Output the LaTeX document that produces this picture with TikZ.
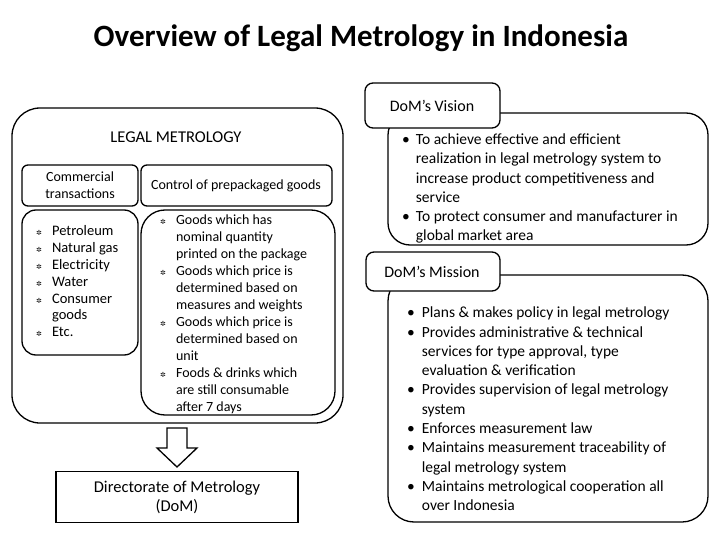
\documentclass[tikz,border=0pt]{standalone}
\usepackage{fontspec}
\setmainfont{Carlito}
\newfontfamily\dejavu{DejaVu Sans}
\newcommand{\sym}{{\dejavu\scriptsize ✲}}
\tikzset{
 box/.style={draw,line width=1.3pt,rounded corners=#1},
 box/.default=8pt,
 txt/.style={font=\fontsize{14}{17}\selectfont,align=left,inner sep=0pt},
}
\begin{document}
\begin{tikzpicture}[x=1pt,y=-1pt]
\useasboundingbox (0,0) rectangle (720,540);
\node[font=\fontsize{31}{34}\bfseries] (title) at (361,38) {Overview of Legal Metrology in Indonesia};
% legal metrology
\draw[box=28pt] (12,108) rectangle (343,423);
\node[font=\fontsize{16.5}{19}\selectfont] (lm) at (176,137) {LEGAL METROLOGY};
\draw[box=6pt] (22,165) rectangle (138,206);
\node[txt,align=center,font=\fontsize{14}{17}\selectfont] (ct) at (80,185) {Commercial\\transactions};
\draw[box=6pt] (141,165) rectangle (332,206);
\node[txt] (cp) at (236,186) {Control of prepackaged goods};
\draw[box=14pt] (22,210) rectangle (138,355);
\node[txt,font=\fontsize{14.5}{16.8}\selectfont,anchor=north west] (l1) at (36,224) {%
\begin{tabular}{@{}l@{\hspace{10pt}}l@{}}
\sym & Petroleum\\ \sym & Natural gas\\ \sym & Electricity\\ \sym & Water\\ \sym & Consumer\\ & goods\\ \sym & Etc.
\end{tabular}};
\draw[box=24pt] (141,210) rectangle (335,415);
\node[txt,anchor=north west] (l2) at (160,212) {%
\begin{tabular}{@{}l@{\hspace{10pt}}l@{}}
\sym & Goods which has\\ & nominal quantity\\ & printed on the package\\
\sym & Goods which price is\\ & determined based on\\ & measures and weights\\
\sym & Goods which price is\\ & determined based on\\ & unit\\
\sym & Foods \& drinks which\\ & are still consumable\\ & after 7 days
\end{tabular}};
\draw[line width=1.3pt,line join=miter] (167,428) -- (187,428) -- (187,448) -- (197,448) -- (177,467) -- (157,448) -- (167,448) -- cycle;
\coordinate (arr) at (177,467);
\node[draw,line width=1.3pt,minimum width=242pt,minimum height=51pt,font=\fontsize{16.5}{19}\selectfont,align=center] (dom) at (177,497) {Directorate of Metrology\\(DoM)};
% vision
\draw[box=22pt] (388,113) rectangle (708,245);
\draw[box=8pt,fill=white] (365,83) rectangle (500,128);
\node[font=\fontsize{16}{18}\selectfont] (vt) at (432,106) {DoM's Vision};
\node[txt,font=\fontsize{15.5}{19.2}\selectfont,anchor=north west] (vl) at (402,131) {%
\begin{tabular}{@{}l@{\hspace{6pt}}l@{}}
• & To achieve effective and efficient\\ & realization in legal metrology system to\\ & increase product competitiveness and\\ & service\\
• & To protect consumer and manufacturer in\\ & global market area
\end{tabular}};
% mission
\draw[box=26pt] (388,275) rectangle (708,522);
\draw[box=8pt,fill=white] (366,252) rectangle (500,291);
\node[font=\fontsize{16}{18}\selectfont] (mt) at (432,272) {DoM's Mission};
\node[txt,font=\fontsize{15.5}{19.3}\selectfont,anchor=north west] (ml) at (407,304) {%
\begin{tabular}{@{}l@{\hspace{7pt}}l@{}}
• & Plans \& makes policy in legal metrology\\
• & Provides administrative \& technical\\ & services for type approval, type\\ & evaluation \& verification\\
• & Provides supervision of legal metrology\\ & system\\
• & Enforces measurement law\\
• & Maintains measurement traceability of\\ & legal metrology system\\
• & Maintains metrological cooperation all\\ & over Indonesia
\end{tabular}};
\end{tikzpicture}
\end{document}
